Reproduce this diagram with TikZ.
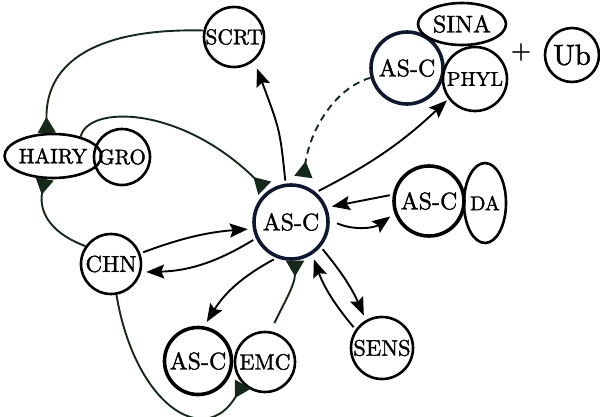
\documentclass[tikz,border=0pt]{standalone}
\usepackage{fontspec}
\setmainfont{lmroman10-regular.otf}[FakeBold=1.4]
\usetikzlibrary{arrows.meta,shapes.geometric}
\definecolor{dg}{RGB}{22,40,26}
\definecolor{nv}{RGB}{16,24,48}
\newcommand\setfs[1]{\fontsize{#1}{#1}\selectfont}
\tikzset{
  nd/.style={circle, draw, line width=2.6pt, inner sep=0pt},
  el/.style={ellipse, draw, line width=2.6pt, inner sep=0pt},
  thk/.style={line width=3.6pt},
  ar/.style={-{Stealth[length=18pt,width=14pt,inset=3pt]}, line width=1.9pt, shorten >=5pt, shorten <=3pt},
  gr/.style={draw=dg, line width=1.9pt, -{Triangle[reversed,length=16pt,width=18pt]}},
}
\begin{document}
\begin{tikzpicture}[x=1pt,y=-1pt]
\useasboundingbox (0,0) rectangle (600,416);
% nodes
\node[nd, thk, draw=nv, minimum size=74pt, font=\setfs{24}] (c) at (291,222) {AS-C};
\node[nd, minimum size=60pt, font=\setfs{21.5}] (scrt) at (234,37) {SCRT};
\node[el, minimum width=86pt, minimum height=44pt, font=\setfs{21}] (hairy) at (53,156) {HAIRY};
\node[nd, minimum size=56pt, font=\setfs{21}] (gro) at (122,157) {GRO};
\node[nd, minimum size=60pt, font=\setfs{23}] (chn) at (111,264) {CHN};
\node[nd, thk, minimum size=67pt, font=\setfs{24}] (asb) at (198,361) {AS-C};
\node[nd, minimum size=60pt, font=\setfs{22}] (emc) at (265,362) {EMC};
\node[nd, minimum size=62pt, font=\setfs{22.5}] (sens) at (382,348) {SENS};
\node[nd, thk, minimum size=70pt, font=\setfs{24}] (asr) at (429,201) {AS-C};
\node[el, minimum width=40pt, minimum height=80pt, font=\setfs{20}] (da) at (485,203) {DA};
\node[nd, thk, draw=nv, minimum size=72pt, font=\setfs{24}] (ast) at (407,68) {AS-C};
\node[nd, minimum size=64pt, font=\setfs{20}] (phyl) at (475,79) {PHYL};
\node[el, minimum width=88pt, minimum height=42pt, font=\setfs{24}] (sina) at (462,24) {SINA};
\node[font=\setfs{26}, inner sep=0pt] (plus) at (521,52) {+};
\node[nd, minimum size=54pt, font=\setfs{29}] (ub) at (572,55) {Ub};
% green curved connectors
\draw[gr] (scrt.168) .. controls (100,28) and (45,60) .. (hairy.105);
\draw[gr, shorten >=4pt] (hairy.35) .. controls (88,105) and (180,105) .. (c.127);
\draw[gr] (chn.145) .. controls (55,235) and (38,215) .. (hairy.250);
\draw[gr, dash pattern=on 7pt off 5pt, shorten >=8pt] (ast.195) .. controls (335,88) and (310,130) .. (c.73);
\draw[gr, shorten <=9pt] (emc.80) .. controls (283,305) and (295,285) .. (c.-84);
\draw[gr] (chn.-80) .. controls (135,405) and (205,450) .. (emc.225);
% black connectors
\draw[ar, shorten >=8pt] (c.98) .. controls (280,130) .. (scrt.-50);
\draw[ar, shorten >=2pt] (c.50) to[bend right=8] (phyl.217);
\draw[ar] (asr.170) -- (c.22);
\draw[ar, shorten <=8pt] (c.3) to[bend right=30] (asr.200);
\draw[ar] (c.-40) to[bend left=8] (sens.120);
\draw[ar] (sens.145) to[bend left=10] (c.-57);
\draw[ar] (chn.20) to[bend left=8] (c.190);
\draw[ar] (c.205) to[bend left=15] (chn.-15);
\draw[ar] (c.-112) to[bend right=15] (asb.80);
\end{tikzpicture}
\end{document}
